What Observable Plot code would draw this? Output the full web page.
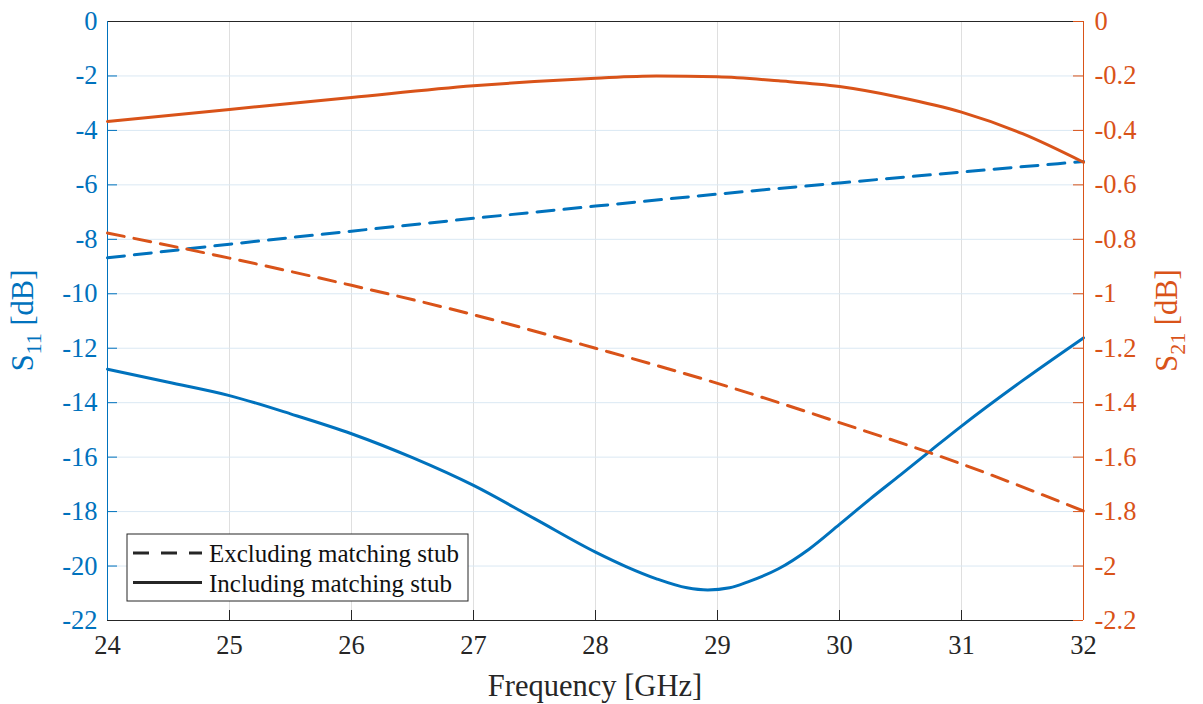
<!DOCTYPE html>
<html><head><meta charset="utf-8">
<script src="https://cdn.jsdelivr.net/npm/d3@7"></script>
<script src="https://cdn.jsdelivr.net/npm/@observablehq/plot@0.6"></script>
<style>
body{margin:0;background:#fff;}
#wrap{position:relative;width:1203px;height:704px;overflow:hidden;}
#wrap svg{position:absolute;left:0;top:0;}
#wrap svg, #wrap svg text{font-family:'Liberation Serif','Times New Roman',serif !important;}
</style></head><body><div id="wrap"></div>
<script>
// ---- data ----
const freqS11Incl = [24, 24.5, 25, 25.5, 26, 26.5, 27, 27.5, 28, 28.25, 28.5, 28.75, 28.92, 29.1, 29.25, 29.5, 29.75, 30, 30.25, 30.5, 30.75, 31, 31.5, 32];
const s11Incl     = [-12.77, -13.25, -13.74, -14.41, -15.14, -16.02, -17.04, -18.26, -19.49, -20.02, -20.47, -20.80, -20.88, -20.80, -20.58, -20.10, -19.38, -18.47, -17.54, -16.65, -15.75, -14.86, -13.19, -11.62];
const freqS11Excl = [24, 25, 26, 27, 28, 29, 30, 31, 32];
const s11Excl     = [-8.68, -8.18, -7.70, -7.23, -6.78, -6.34, -5.93, -5.53, -5.14];
const freqS21Incl = [24, 25, 26, 27, 27.5, 28, 28.5, 29, 29.5, 30, 30.5, 31, 31.5, 32];
const s21Incl     = [-0.367, -0.323, -0.279, -0.236, -0.220, -0.208, -0.200, -0.203, -0.218, -0.239, -0.279, -0.333, -0.412, -0.517];
const freqS21Excl = [24, 25, 26, 27, 28, 29, 30, 31, 32];
const s21Excl     = [-0.777, -0.869, -0.969, -1.077, -1.200, -1.329, -1.473, -1.625, -1.798];
const xTicks = [24, 25, 26, 27, 28, 29, 30, 31, 32];
const yLeftTicks = [-22, -20, -18, -16, -14, -12, -10, -8, -6, -4, -2, 0];
const yRightTicks = [-2.2, -2, -1.8, -1.6, -1.4, -1.2, -1, -0.8, -0.6, -0.4, -0.2, 0];
const legendLabels = ["Excluding matching stub", "Including matching stub"];

const rows = (fs, vs) => fs.map((f, i) => ({f, v: vs[i]}));

const W = 1203, H = 704, mL = 107, mR = 120, mT = 21, mB = 84;
const pw = W - mL - mR, ph = H - mT - mB;
const BLUE = "#0072BD", ORANGE = "#D95319", DARK = "#262626";
const FONT = "'Liberation Serif','Times New Roman',serif";
const DASH = "17,10";

const common = {
  width: W, height: H, marginLeft: mL, marginRight: mR, marginTop: mT, marginBottom: mB,
  style: {fontFamily: FONT, fontSize: "26.5px", background: "transparent", overflow: "visible"}
};

const base = Plot.plot({
  ...common,
  x: {domain: [24, 32]},
  y: {domain: [-22, 0]},
  marks: [
    Plot.gridX(xTicks, {stroke: "#dfdfdf", strokeOpacity: 1, strokeWidth: 1}),
    Plot.gridY(yLeftTicks, {stroke: "#dae8f3", strokeOpacity: 1, strokeWidth: 1}),
    Plot.axisX(xTicks, {tickSize: 0, tickPadding: 15, color: DARK, label: null, tickFormat: d => String(d)}),
    Plot.axisY(yLeftTicks, {anchor: "left", tickSize: 0, tickPadding: 10, color: BLUE, label: null, tickFormat: d => String(d)}),
    Plot.tickX(xTicks, {x: d => d, stroke: DARK, insetTop: ph - 10}),
    Plot.tickY(yLeftTicks, {y: d => d, stroke: BLUE, insetRight: pw - 10}),
    Plot.ruleY([0], {stroke: DARK}),
    Plot.ruleY([-22], {stroke: DARK}),
    Plot.ruleX([24], {stroke: BLUE}),
    Plot.line(rows(freqS11Excl, s11Excl), {x: "f", y: "v", stroke: BLUE, strokeWidth: 3, strokeDasharray: DASH, curve: "monotone-x"}),
    Plot.line(rows(freqS11Incl, s11Incl), {x: "f", y: "v", stroke: BLUE, strokeWidth: 3, curve: "monotone-x"})
  ]
});

const over = Plot.plot({
  ...common,
  x: {domain: [24, 32], axis: null},
  y: {domain: [-2.2, 0]},
  marks: [
    Plot.axisY(yRightTicks, {anchor: "right", tickSize: 0, tickPadding: 11, color: ORANGE, label: null, tickFormat: d => String(+d.toFixed(1))}),
    Plot.tickY(yRightTicks, {y: d => d, stroke: ORANGE, insetLeft: pw - 10}),
    Plot.ruleX([32], {stroke: ORANGE}),
    Plot.line(rows(freqS21Excl, s21Excl), {x: "f", y: "v", stroke: ORANGE, strokeWidth: 3, strokeDasharray: DASH, curve: "monotone-x"}),
    Plot.line(rows(freqS21Incl, s21Incl), {x: "f", y: "v", stroke: ORANGE, strokeWidth: 3, curve: "monotone-x"})
  ]
});

const wrap = document.getElementById("wrap");
wrap.appendChild(base);
wrap.appendChild(over);

const svg = d3.select(over);
// axis labels
function yLabel(x, color, sub) {
  const t = svg.append("text")
    .attr("transform", `translate(${x},${mT + ph / 2}) rotate(-90)`)
    .attr("text-anchor", "middle").attr("fill", color)
    .style("font-size", "30.5px");
  t.append("tspan").text("S");
  t.append("tspan").attr("dy", 8).style("font-size", "22px").text(sub);
  t.append("tspan").attr("dy", -8).text("\u00A0[dB]");
}
yLabel(33, BLUE, "11");
yLabel(1177, ORANGE, "21");
svg.append("text").attr("x", mL + pw / 2).attr("y", 696).attr("text-anchor", "middle")
  .attr("fill", DARK).style("font-size", "30.5px").text("Frequency [GHz]");

// legend
const lg = svg.append("g");
lg.append("rect").attr("x", 127).attr("y", 534).attr("width", 341).attr("height", 67)
  .attr("fill", "#fff").attr("stroke", DARK).attr("stroke-width", 1);
legendLabels.forEach((lab, i) => {
  const y = 553 + i * 29.5;
  lg.append("line").attr("x1", 133).attr("x2", 202).attr("y1", y).attr("y2", y)
    .attr("stroke", DARK).attr("stroke-width", 3).attr("stroke-dasharray", i === 0 ? "16,12" : null);
  lg.append("text").attr("x", 209).attr("y", y + 9).attr("text-anchor", "start").attr("fill", "#111")
    .style("font-size", "25px").text(lab);
});
</script></body></html>
